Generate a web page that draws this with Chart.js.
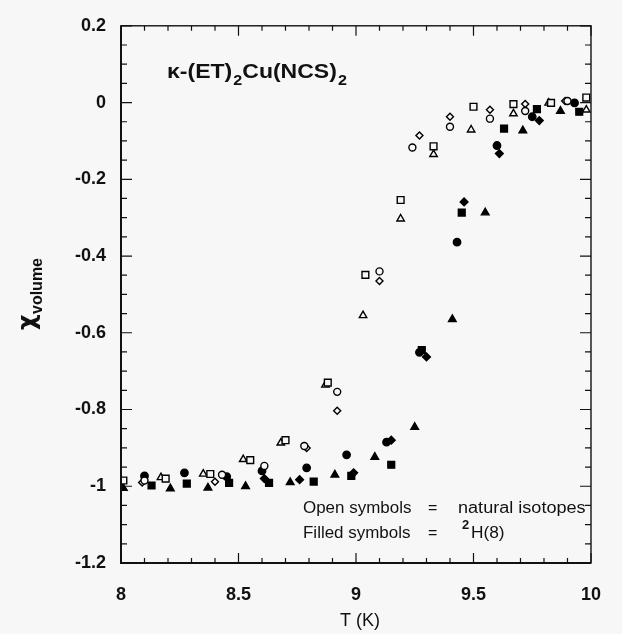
<!DOCTYPE html>
<html>
<head>
<meta charset="utf-8">
<script src="https://cdn.jsdelivr.net/npm/chart.js@4"></script>
<style>
html,body{margin:0;padding:0;background:#f7f7f7;}
#wrap{width:622px;height:634px;}
</style>
</head>
<body>
<div id="wrap"><canvas id="c" width="622" height="634"></canvas></div>
<script>
// ---- Data ----
const xTickLabels = ['8', '8.5', '9', '9.5', '10'];
const yTickLabels = ['-1.2', '-1', '-0.8', '-0.6', '-0.4', '-0.2', '0', '0.2'];

const openCircleT   = [8.10, 8.43, 8.61, 8.78, 8.92, 9.10, 9.24, 9.40, 9.57, 9.72, 9.90];
const openCircleChi = [-0.985, -0.970, -0.947, -0.895, -0.754, -0.440, -0.117, -0.063, -0.042, -0.022, 0.004];

const openSquareT   = [8.01, 8.19, 8.38, 8.55, 8.70, 8.88, 9.04, 9.19, 9.33, 9.50, 9.67, 9.83, 9.98];
const openSquareChi = [-0.985, -0.980, -0.968, -0.932, -0.880, -0.730, -0.449, -0.254, -0.114, -0.011, -0.004, -0.001, 0.013];

const openTriangleT   = [8.17, 8.35, 8.52, 8.68, 8.87, 9.03, 9.19, 9.33, 9.49, 9.67, 9.82, 9.98];
const openTriangleChi = [-0.977, -0.968, -0.930, -0.887, -0.736, -0.555, -0.303, -0.135, -0.071, -0.029, -0.001, -0.019];

const openDiamondT   = [8.09, 8.40, 8.79, 8.92, 9.10, 9.27, 9.40, 9.57, 9.72, 9.89];
const openDiamondChi = [-0.990, -0.988, -0.900, -0.803, -0.465, -0.086, -0.037, -0.019, -0.004, 0.004];

const filledCircleT   = [8.10, 8.27, 8.45, 8.60, 8.79, 8.96, 9.13, 9.27, 9.43, 9.60, 9.75, 9.93];
const filledCircleChi = [-0.973, -0.965, -0.975, -0.960, -0.952, -0.918, -0.885, -0.651, -0.364, -0.112, -0.037, -0.001];

const filledSquareT   = [8.13, 8.28, 8.46, 8.63, 8.82, 8.98, 9.15, 9.28, 9.45, 9.63, 9.77, 9.95];
const filledSquareChi = [-0.998, -0.993, -0.991, -0.991, -0.988, -0.973, -0.944, -0.645, -0.287, -0.068, -0.017, -0.024];

const filledTriangleT   = [8.01, 8.21, 8.37, 8.53, 8.72, 8.91, 9.08, 9.25, 9.41, 9.55, 9.71, 9.87];
const filledTriangleChi = [-1.005, -1.006, -1.004, -1.000, -0.990, -0.970, -0.924, -0.846, -0.565, -0.287, -0.073, -0.022];

const filledDiamondT   = [8.61, 8.76, 8.99, 9.15, 9.30, 9.46, 9.61, 9.78];
const filledDiamondChi = [-0.980, -0.983, -0.965, -0.880, -0.663, -0.259, -0.133, -0.047];

// ---- Build datasets ----
function pts(t, v){ return t.map((x, i) => ({x: x, y: v[i]})); }
function ds(label, t, v, style, r, filled){
  return {
    label: label, data: pts(t, v), showLine: false,
    pointStyle: style, pointRadius: r, pointHoverRadius: r,
    pointBorderColor: '#000', pointBorderWidth: 1.4,
    pointBackgroundColor: filled ? '#000' : '#f7f7f7'
  };
}
const datasets = [
  ds('open circle', openCircleT, openCircleChi, 'circle', 3.5, false),
  ds('open square', openSquareT, openSquareChi, 'rect', 4.8, false),
  ds('open triangle', openTriangleT, openTriangleChi, 'triangle', 4.3, false),
  ds('open diamond', openDiamondT, openDiamondChi, 'rectRot', 3.5, false),
  ds('filled circle', filledCircleT, filledCircleChi, 'circle', 3.7, true),
  ds('filled square', filledSquareT, filledSquareChi, 'rect', 4.8, true),
  ds('filled triangle', filledTriangleT, filledTriangleChi, 'triangle', 4.4, true),
  ds('filled diamond', filledDiamondT, filledDiamondChi, 'rectRot', 3.9, true)
];

function labelFor(list, v, start, step){
  const idx = Math.round((v - start) / step);
  return list[idx] !== undefined ? list[idx] : '';
}

const FONT = '"Liberation Sans", Arial, sans-serif';

// ---- Frame, inward ticks and annotations ----
const framePlugin = {
  id: 'frame',
  afterDraw(chart){
    const ctx = chart.ctx, a = chart.chartArea;
    const xs = chart.scales.x, ys = chart.scales.y;
    ctx.save();
    ctx.strokeStyle = '#111';
    ctx.lineWidth = 1.4;
    ctx.strokeRect(a.left, a.top, a.right - a.left, a.bottom - a.top);
    ctx.lineWidth = 2;
    ctx.beginPath();
    ctx.moveTo(a.left, a.top); ctx.lineTo(a.left, a.bottom); ctx.lineTo(a.right, a.bottom);
    ctx.stroke();
    ctx.lineWidth = 1.2;
    ctx.beginPath();
    for (let k = 0; k <= 28; k++){
      const v = -1.2 + k * 0.05;
      const py = ys.getPixelForValue(v);
      const major = (k % 4 === 0);
      const L = major ? 11 : 6;
      ctx.moveTo(a.left, py); ctx.lineTo(a.left + L, py);
      ctx.moveTo(a.right, py); ctx.lineTo(a.right - L, py);
    }
    for (let k = 0; k <= 20; k++){
      const v = 8 + k * 0.1;
      const px = xs.getPixelForValue(v);
      const major = (k % 5 === 0);
      const L = major ? 10 : 5;
      ctx.moveTo(px, a.top); ctx.lineTo(px, a.top + L);
      ctx.moveTo(px, a.bottom); ctx.lineTo(px, a.bottom - L);
    }
    ctx.stroke();

    ctx.fillStyle = '#111';
    ctx.textBaseline = 'alphabetic';
    // compound title
    ctx.save();
    ctx.translate(167, 78);
    ctx.scale(1.15, 1);
    let x = 0;
    ctx.font = 'bold 20px ' + FONT;
    const t1 = '\u03BA-(ET)';
    ctx.fillText(t1, x, 0); x += ctx.measureText(t1).width + 1;
    ctx.font = 'bold 14px ' + FONT;
    ctx.fillText('2', x, 7); x += ctx.measureText('2').width;
    ctx.font = 'bold 20px ' + FONT;
    const t2 = 'Cu(NCS)';
    ctx.fillText(t2, x, 0); x += ctx.measureText(t2).width + 1;
    ctx.font = 'bold 14px ' + FONT;
    ctx.fillText('2', x, 7);
    ctx.restore();

    // note text
    ctx.font = '16px ' + FONT;
    ctx.save(); ctx.translate(303, 513); ctx.scale(1.06, 1);
    ctx.fillText('Open symbols', 0, 0); ctx.restore();
    ctx.fillText('=', 428, 513);
    ctx.save(); ctx.translate(458, 513); ctx.scale(1.13, 1);
    ctx.fillText('natural isotopes', 0, 0); ctx.restore();
    ctx.save(); ctx.translate(303, 538); ctx.scale(1.06, 1);
    ctx.fillText('Filled symbols', 0, 0); ctx.restore();
    ctx.fillText('=', 428, 538);
    ctx.font = 'bold 13px ' + FONT;
    ctx.fillText('2', 462, 529);
    ctx.font = '16px ' + FONT;
    ctx.save(); ctx.translate(471, 538); ctx.scale(1.08, 1);
    ctx.fillText('H(8)', 0, 0); ctx.restore();

    // y axis title: chi with subscript "volume"
    ctx.save();
    ctx.translate(35, 296);
    ctx.rotate(-Math.PI / 2);
    ctx.font = 'bold 24px "DejaVu Sans", sans-serif';
    ctx.fillText('\u03C7', -34, 0);
    ctx.font = 'bold 16px ' + FONT;
    ctx.fillText('volume', -18, 7);
    ctx.restore();

    // x axis title
    ctx.font = '18px ' + FONT;
    ctx.textAlign = 'center';
    ctx.fillText('T (K)', 360, 626);
    ctx.restore();
  }
};

new Chart(document.getElementById('c'), {
  type: 'scatter',
  data: { datasets: datasets },
  options: {
    responsive: false,
    animation: false,
    devicePixelRatio: 1,
    layout: { padding: { left: 0, right: 17, top: 20, bottom: 0 } },
    plugins: { legend: { display: false }, tooltip: { enabled: false } },
    scales: {
      x: {
        type: 'linear', min: 8, max: 10,
        border: { display: false },
        grid: { display: false, drawTicks: false },
        ticks: {
          stepSize: 0.5, padding: 21, color: '#111',
          font: { family: FONT, size: 18, weight: 'bold' },
          callback: (v) => labelFor(xTickLabels, v, 8, 0.5)
        },
        afterFit: (s) => { s.height = 71; }
      },
      y: {
        type: 'linear', min: -1.2, max: 0.2,
        border: { display: false },
        grid: { display: false, drawTicks: false },
        ticks: {
          stepSize: 0.2, padding: 15, color: '#111',
          font: { family: FONT, size: 18, weight: 'bold' },
          callback: (v) => labelFor(yTickLabels, v, -1.2, 0.2)
        },
        afterFit: (s) => { s.width = 121; }
      }
    }
  },
  plugins: [framePlugin]
});
</script>
</body>
</html>
